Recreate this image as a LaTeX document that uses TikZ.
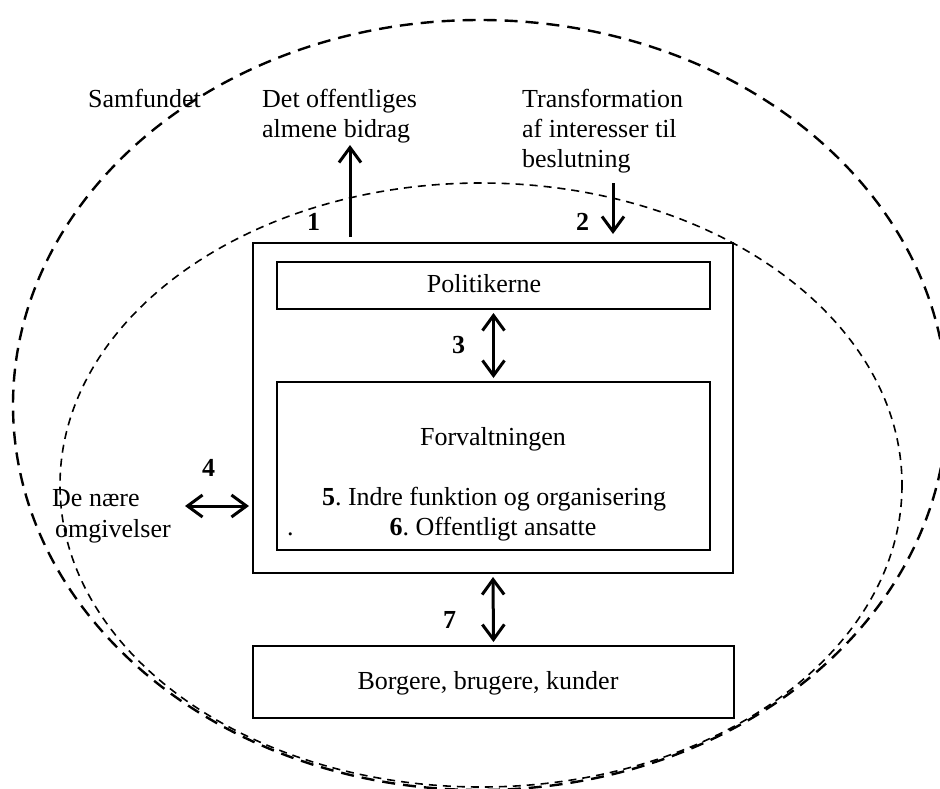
\documentclass[tikz,border=0pt]{standalone}
\usepackage{fontspec}
\setmainfont{Liberation Serif}
\usetikzlibrary{arrows.meta}
\frenchspacing
\begin{document}
\begin{tikzpicture}[x=1pt,y=-1pt,
  every node/.style={font=\fontsize{26}{30}\selectfont, inner sep=0pt},
  txtw/.style={anchor=base west},
  txtc/.style={anchor=base},
  numlab/.style={anchor=base west, font=\fontsize{26}{30}\selectfont\bfseries},
  boxnode/.style={draw, line width=2pt, rectangle, inner sep=0pt},
  bigoval/.style={line width=2.4pt, dash pattern=on 13pt off 8pt},
  smalloval/.style={line width=1.6pt, dash pattern=on 8pt off 6pt},
  barb/.tip={Straight Barb[length=15pt,width=22pt]},
  arr/.style={line width=3pt, -barb},
  darr/.style={line width=3pt, barb-barb}
]
\useasboundingbox (0,0) rectangle (940,788);
\clip (0,0) rectangle (940,788);

% ovals
\draw[bigoval] (480,405) ellipse [x radius=467, y radius=385];
\draw[smalloval] (481,485) ellipse [x radius=421, y radius=302];

% boxes
\node[boxnode, minimum width=480pt, minimum height=330pt] (outer) at (493,408) {};
\node[boxnode, minimum width=433pt, minimum height=47pt] (pol) at (493.5,285.5) {};
\node[boxnode, minimum width=433pt, minimum height=168pt] (forv) at (493.5,466) {};
\node[boxnode, minimum width=481pt, minimum height=72pt] (borg) at (493.5,682) {};

% texts
\node[txtw] (samf) at (88,107) {Samfundet};
\node[txtw] (det1) at (262,107) {Det offentliges};
\node[txtw] (det2) at (262,137) {almene bidrag};
\node[txtw] (tr1) at (522,107) {Transformation};
\node[txtw] (tr2) at (522,137) {af interesser til};
\node[txtw] (tr3) at (522,167) {beslutning};
\node[txtw] (de1) at (52,506) {De nære};
\node[txtw] (de2) at (55,537) {omgivelser};
\node[txtc] (poltxt) at (484,292) {Politikerne};
\node[txtc] (forvtxt) at (493,445) {Forvaltningen};
\node[txtc] (f5) at (494,505) {\textbf{5}. Indre funktion og organisering};
\node[txtc] (f6) at (493,535) {\textbf{6}. Offentligt ansatte};
\node[txtw] (dot) at (287,535) {.};
\node[txtc] (borgtxt) at (488,689) {Borgere, brugere, kunder};

% numbers
\node[numlab] (n1) at (307,230) {1};
\node[numlab] (n2) at (576,230) {2};
\node[numlab] (n3) at (452,353) {3};
\node[numlab] (n4) at (202,476) {4};
\node[numlab] (n7) at (443,628) {7};

% arrows
\coordinate (a1top) at (350,145);
\coordinate (a2top) at (613,183);
\coordinate (a4left) at (185,506);
\draw[arr, shorten <=5pt] (outer.north -| a1top) -- (a1top);
\draw[arr, shorten >=8pt] (a2top) -- (a2top |- outer.north);
\draw[darr, shorten <=3pt, shorten >=3pt] (pol.south) -- (forv.north);
\draw[darr, shorten <=3pt, shorten >=3pt] (outer.south) -- (borg.north);
\draw[darr, shorten >=3pt] (a4left) -- (a4left -| outer.west);
\end{tikzpicture}
\end{document}
